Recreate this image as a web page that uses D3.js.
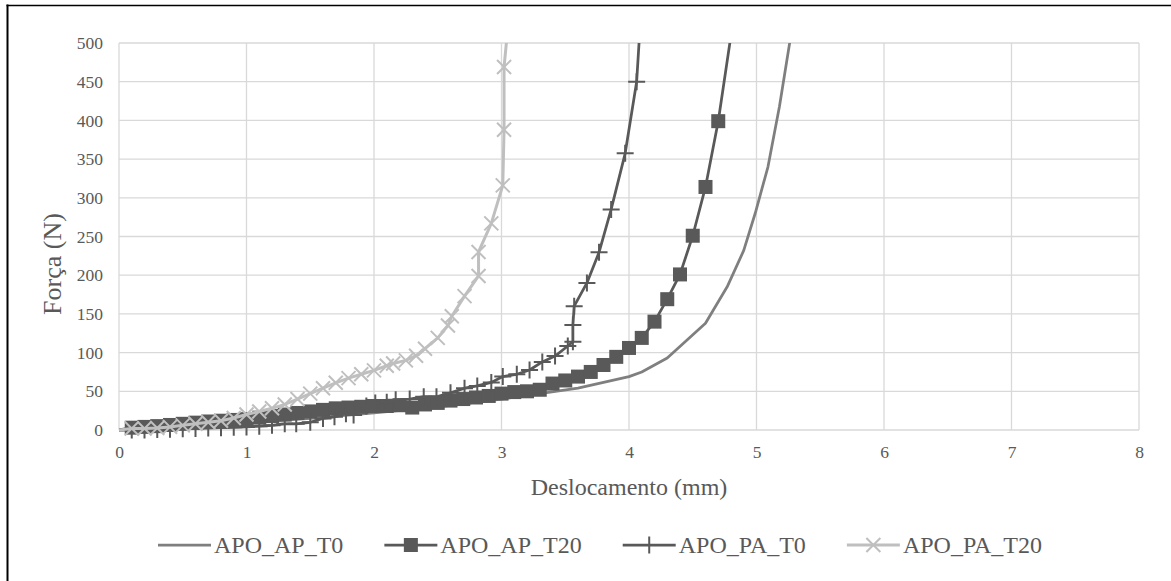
<!DOCTYPE html>
<html><head><meta charset="utf-8">
<script src="https://cdn.jsdelivr.net/npm/d3@7/dist/d3.min.js"></script>
<style>
body{margin:0;background:#fff}
svg{display:block}
svg text{font-family:"Liberation Serif","Times New Roman",Times,serif !important}
</style>
</head><body>
<svg id="chart" width="1171" height="581" font-family="Liberation Serif, Times New Roman, serif"></svg>
<script>
// ---------- data ----------
const seriesNames = ["APO_AP_T0", "APO_AP_T20", "APO_PA_T0", "APO_PA_T20"];
const xTicks = [0, 1, 2, 3, 4, 5, 6, 7, 8];
const yTicks = [0, 50, 100, 150, 200, 250, 300, 350, 400, 450, 500];
const xTitle = "Deslocamento (mm)";
const yTitle = "Força (N)";

const apT0_x = [0, 0.5, 1.0, 1.5, 2.0, 2.5, 3.0, 3.3, 3.6, 4.0, 4.1, 4.3, 4.6, 4.77, 4.9, 4.99, 5.09, 5.18, 5.26, 5.3];
const apT0_y = [0, 4, 9, 15, 22, 30, 40, 47, 54, 69, 75, 93, 138, 185, 232, 280, 340, 418, 500, 540];

const apT20_x = [0, 0.1, 0.2, 0.3, 0.4, 0.5, 0.6, 0.7, 0.8, 0.9, 1.0, 1.1, 1.2, 1.3, 1.4, 1.5, 1.6, 1.7, 1.8, 1.9, 2.0,
  2.1, 2.2, 2.3, 2.4, 2.5, 2.6, 2.7, 2.8, 2.9, 3.0, 3.1, 3.2, 3.3, 3.4, 3.5, 3.6, 3.7, 3.8, 3.9, 4.0,
  4.1, 4.2, 4.3, 4.4, 4.5, 4.6, 4.7, 4.8];
const apT20_y = [0, 3, 4, 5, 6.5, 8, 9.5, 11, 12, 13, 14, 16, 18, 20, 22, 24, 26, 28, 29, 30, 31,
  31, 32, 29, 33, 35, 38, 40, 42, 44, 47, 49, 50, 52, 60, 64, 69, 75, 84, 94.5, 106,
  119, 140, 169, 201, 251, 314, 399, 510];

const paT0_x = [0, 0.1, 0.2, 0.3, 0.4, 0.5, 0.6, 0.7, 0.8, 0.9, 1.0, 1.1, 1.2, 1.3, 1.39, 1.5, 1.6, 1.69, 1.78, 1.84,
  1.94, 2.01, 2.1, 2.17, 2.28, 2.39, 2.49, 2.6, 2.71, 2.81, 2.92, 3.01, 3.12, 3.22, 3.32, 3.42, 3.52, 3.56,
  3.56, 3.57, 3.67, 3.765, 3.86, 3.97, 4.06, 4.09];
const paT0_y = [0, 0, 0, 0.5, 1, 1.5, 2, 2.5, 3, 3.5, 4, 5, 6, 8, 8, 10, 15, 17, 21, 19.5,
  31, 35, 36, 39, 40, 43, 43, 48, 54, 57, 61.5, 69, 72, 77.5, 88, 95.5, 108.5, 114,
  135.5, 160, 190, 229.5, 285, 357.5, 450, 530];

const paT20_x = [0, 0.1, 0.2, 0.3, 0.4, 0.5, 0.6, 0.7, 0.8, 0.9, 1.0, 1.1, 1.2, 1.3, 1.4, 1.5, 1.6, 1.7, 1.8, 1.9, 2.0,
  2.1, 2.15, 2.25, 2.33, 2.4, 2.5, 2.58, 2.61, 2.71, 2.82, 2.82, 2.92, 3.01, 3.02, 3.02, 3.05];
const paT20_y = [0, 2, 2, 2.5, 4, 6, 8, 10, 12, 15.5, 20, 24, 28, 33, 40, 47, 54, 61, 67, 72, 77,
  83, 86, 90, 96, 105, 119, 135, 147, 173, 199, 230, 267, 316, 388, 469, 520];

// ---------- layout ----------
const W = 1171, H = 581;
const FONT = '"Liberation Serif","Times New Roman",Times,serif';
const plot = {left: 119, right: 1139, top: 43, bottom: 430};
const svg = d3.select("#chart");

const x = d3.scaleLinear().domain([0, 8]).range([plot.left, plot.right]);
const y = d3.scaleLinear().domain([0, 500]).range([plot.bottom, plot.top]);

// outer frame (left & top)
svg.append("line").attr("x1", 7.5).attr("x2", 7.5).attr("y1", 4.5).attr("y2", H).attr("stroke", "#000").attr("stroke-width", 2);
svg.append("line").attr("x1", 6.5).attr("x2", W).attr("y1", 5.5).attr("y2", 5.5).attr("stroke", "#000").attr("stroke-width", 1.5);

// gridlines
const grid = svg.append("g");
grid.selectAll("line.h").data(yTicks).join("line")
  .attr("x1", plot.left).attr("x2", plot.right)
  .attr("y1", d => y(d)).attr("y2", d => y(d))
  .attr("stroke", "#d9d9d9").attr("stroke-width", 1.3);
grid.selectAll("line.v").data(xTicks).join("line")
  .attr("x1", d => x(d)).attr("x2", d => x(d))
  .attr("y1", plot.top).attr("y2", plot.bottom)
  .attr("stroke", "#d9d9d9").attr("stroke-width", 1.3);

// axes (labels via d3 axes)
const xAxis = svg.append("g").attr("transform", `translate(0,${plot.bottom})`)
  .call(d3.axisBottom(x).tickValues(xTicks).tickFormat(d3.format("d")).tickSize(0).tickPadding(16));
const yAxis = svg.append("g").attr("transform", `translate(${plot.left},0)`)
  .call(d3.axisLeft(y).tickValues(yTicks).tickFormat(d3.format("d")).tickSize(0).tickPadding(16));
[xAxis, yAxis].forEach(a => {
  a.attr("font-family", FONT).attr("font-size", 17.5);
  a.select(".domain").remove();
  a.selectAll("text").attr("fill", "#595959").style("font-family", FONT).style("font-size", "17.5px");
});

// axis titles
svg.append("text").attr("x", (plot.left + plot.right) / 2).attr("y", 495)
  .attr("text-anchor", "middle").attr("fill", "#595959").style("font-family", FONT).style("font-size", "24px").text(xTitle);
svg.append("text").attr("transform", "translate(61,264) rotate(-90)")
  .attr("text-anchor", "middle").attr("fill", "#595959").style("font-family", FONT).style("font-size", "26px").text(yTitle);

// clip
svg.append("clipPath").attr("id", "plotclip").append("rect")
  .attr("x", plot.left).attr("y", plot.top)
  .attr("width", plot.right - plot.left).attr("height", plot.bottom - plot.top + 20);

const styles = [
  {color: "#7f7f7f", width: 2.75, marker: "none"},
  {color: "#595959", width: 2.75, marker: "square"},
  {color: "#595959", width: 2.75, marker: "plus"},
  {color: "#bfbfbf", width: 3, marker: "cross"}
];
const seriesData = [
  apT0_x.map((v, i) => ({x: v, y: apT0_y[i]})),
  apT20_x.map((v, i) => ({x: v, y: apT20_y[i]})),
  paT0_x.map((v, i) => ({x: v, y: paT0_y[i]})),
  paT20_x.map((v, i) => ({x: v, y: paT20_y[i]}))
];

function drawMarker(g, type, color, cx, cy) {
  if (type === "square") {
    const s = 14;
    g.append("rect").attr("x", cx - s / 2).attr("y", cy - s / 2).attr("width", s).attr("height", s).attr("fill", color);
  } else if (type === "plus") {
    const r = 8.5;
    g.append("path").attr("d", `M${cx - r},${cy}H${cx + r}M${cx},${cy - r}V${cy + r}`)
      .attr("stroke", color).attr("stroke-width", 2).attr("fill", "none");
  } else if (type === "cross") {
    const r = 7;
    g.append("path").attr("d", `M${cx - r},${cy - r}L${cx + r},${cy + r}M${cx - r},${cy + r}L${cx + r},${cy - r}`)
      .attr("stroke", color).attr("stroke-width", 2).attr("fill", "none");
  }
}

const line = d3.line().x(d => x(d.x)).y(d => y(d.y));
const seriesG = svg.append("g");
seriesData.forEach((data, k) => {
  const st = styles[k];
  const g = seriesG.append("g");
  g.append("path").datum(data).attr("d", line).attr("fill", "none")
    .attr("stroke", st.color).attr("stroke-width", st.width)
    .attr("stroke-linejoin", "round").attr("clip-path", "url(#plotclip)");
  if (st.marker !== "none") {
    data.filter(d => d.x > 0 && d.y <= 500).forEach(d => drawMarker(g, st.marker, st.color, x(d.x), y(d.y)));
  }
});

// legend
const legY = 545, sampleLen = 53, textGap = 3, itemGap = 41, legFont = 24;
const legG = svg.append("g");
const widths = seriesNames.map(n => {
  const t = legG.append("text").style("font-family", FONT).style("font-size", legFont + "px").text(n);
  const w = t.node().getComputedTextLength(); t.remove(); return w;
});
let cx = 158;
seriesNames.forEach((n, k) => {
  const st = styles[k];
  legG.append("line").attr("x1", cx).attr("x2", cx + sampleLen).attr("y1", legY).attr("y2", legY)
    .attr("stroke", st.color).attr("stroke-width", st.width);
  if (st.marker !== "none") drawMarker(legG, st.marker, st.color, cx + sampleLen / 2, legY);
  legG.append("text").attr("x", cx + sampleLen + textGap).attr("y", legY).attr("dy", "0.33em")
    .attr("fill", "#595959").style("font-family", FONT).style("font-size", legFont + "px").text(n);
  cx += sampleLen + textGap + widths[k] + itemGap;
});
</script>
</body></html>
